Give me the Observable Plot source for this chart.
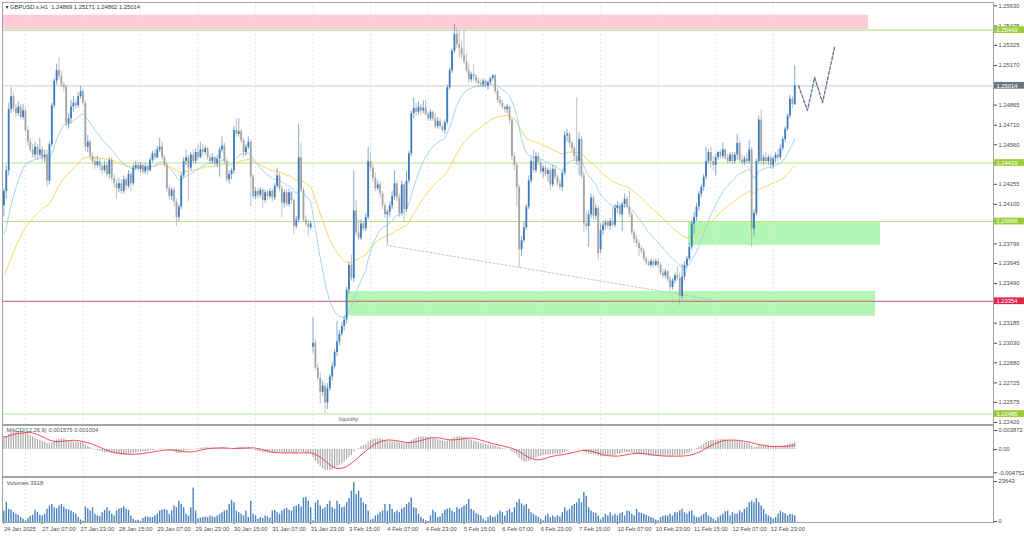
<!DOCTYPE html>
<html><head><meta charset="utf-8">
<script src="https://cdn.jsdelivr.net/npm/d3@7"></script>
<script src="https://cdn.jsdelivr.net/npm/@observablehq/plot@0.6"></script>
<style>
html,body{margin:0;padding:0;background:#fff;}
#chart{position:relative;width:1024px;height:537px;overflow:hidden;background:#fff;}
#chart svg{position:absolute;left:0;}
</style></head><body><div id="chart"></div>
<script>
// ---- DATA (GBPUSD.s H1, prices stored as pips above 1.2200) ----
const BASE = 1.22, PIP = 0.0001;
const opens = [
209,220,236,283,293,284,280,285,277,282,267,258,252,248,254,248,252,246,248,228,256,286,305,313,
309,302,300,272,276,285,288,286,293,297,288,254,258,247,243,240,243,239,236,240,233,244,230,226,
222,226,220,229,224,233,226,238,240,237,240,235,239,236,244,249,246,252,254,246,240,222,216,221,
212,200,208,232,243,246,238,248,243,250,246,252,250,253,246,243,246,241,245,252,255,243,229,233,
236,267,264,266,259,250,254,258,231,216,220,217,221,213,219,216,220,215,224,232,222,211,219,210,
219,213,193,198,246,221,198,195,192,100,103,84,76,65,70,57,68,77,85,96,104,110,116,121,
144,163,153,205,188,184,195,191,200,243,238,230,222,225,218,209,202,204,209,216,226,215,203,225,
206,228,249,280,284,281,285,282,284,279,276,281,276,270,274,270,267,273,300,313,328,341,333,330,
325,320,313,306,310,308,305,303,302,305,301,304,307,309,297,290,288,285,283,285,275,247,240,223,
175,182,192,208,228,243,236,247,242,235,238,233,236,225,237,231,226,223,234,263,264,257,253,247,
243,260,232,195,193,202,215,201,207,175,190,194,196,193,197,194,207,209,202,210,214,208,202,188,
183,180,176,174,168,165,163,166,163,166,163,157,155,158,152,146,151,155,153,139,154,163,168,177,
195,200,208,218,223,231,243,250,243,240,246,250,247,252,246,243,248,243,248,257,244,242,245,243,
252,191,203,243,275,243,246,243,246,240,245,248,246,253,260,268,278,291,286.9];
const highs = [
222,240,288,300,296,287,289,287,287,284,270,261,256,258,256,261,255,252,252,258,288,307,318,323,
313,304,302,280,290,293,291,296,301,299,290,263,260,250,246,247,245,241,243,242,246,246,233,229,
230,229,232,231,236,235,241,243,242,242,241,242,241,246,251,252,255,261,258,248,242,225,223,223,
214,210,234,246,252,248,250,252,253,256,258,256,255,254,248,249,247,248,254,262,257,245,236,238,
270,276,276,268,261,256,262,260,233,223,222,223,222,221,221,222,222,226,238,234,224,221,221,222,
220,214,201,272,257,223,201,198,197,123,106,87,80,74,72,72,79,88,98,120,113,119,124,146,
165,171,236,213,198,198,197,203,254,250,241,234,228,227,220,211,206,212,220,236,228,218,228,226,
236,251,282,292,288,289,287,290,290,281,283,282,280,277,276,272,275,302,315,330,349,346,344,336,
344,326,318,312,318,310,307,306,307,306,305,308,310,310,299,293,290,286,287,286,276,250,242,225,
185,197,210,232,246,252,250,250,244,240,240,238,238,240,240,233,229,236,266,268,266,259,255,292,
265,262,235,204,205,218,217,210,209,195,197,198,198,199,208,210,212,211,212,218,216,220,204,190,
186,182,178,176,170,167,168,168,168,168,165,160,160,159,154,153,157,162,157,164,166,170,180,198,
204,211,220,225,233,254,252,254,247,249,251,252,257,253,249,250,250,250,264,259,248,247,250,259,
254,206,245,278,283,248,250,248,249,247,250,252,256,262,270,280,294,293,317.1];
const lows = [
201,214,232,280,281,277,278,275,275,265,255,250,246,245,244,246,243,242,223,225,254,284,302,306,
300,296,270,268,272,281,283,284,291,286,251,250,244,240,237,238,236,233,234,231,230,228,223,214,
219,218,218,221,222,220,224,236,235,234,233,233,233,235,242,244,245,250,244,238,219,213,213,208,
193,197,206,230,240,212,236,241,241,244,245,246,248,244,241,241,239,238,231,250,241,227,225,229,
233,262,262,257,246,247,252,208,214,214,214,215,207,211,213,214,212,213,222,220,200,207,208,208,
210,187,191,196,219,196,193,185,190,95,82,74,56,62,49,52,66,74,83,93,101,108,112,118,
141,151,150,186,182,182,189,189,198,235,227,220,220,215,206,199,179,200,206,213,212,200,201,196,
204,226,247,276,278,279,279,280,278,274,274,274,268,268,268,265,264,271,298,311,326,330,323,322,
318,311,303,304,305,303,300,300,300,300,298,302,305,295,288,286,283,281,280,272,244,236,208,161,
170,180,190,206,226,234,234,240,233,230,231,227,221,223,229,224,221,220,232,258,254,250,244,240,
232,230,188,190,177,199,198,198,167,172,186,190,191,190,192,192,203,200,189,207,206,200,186,180,
177,170,172,166,163,162,161,161,162,161,155,153,153,150,143,144,149,151,132,137,151,160,166,175,
187,197,205,215,220,229,241,238,236,232,244,245,245,244,241,242,241,241,244,242,240,240,241,241,
177,185,201,241,240,240,240,240,237,237,242,243,244,251,258,266,276,284,286.2];
const closes = [
220,236,283,293,284,280,285,277,282,267,258,252,248,254,248,252,246,248,228,256,286,305,313,309,
302,300,272,276,285,288,286,293,297,288,254,258,247,243,240,243,239,236,240,233,244,230,226,222,
226,220,229,224,233,226,238,240,237,240,235,239,236,244,249,246,252,254,246,240,222,216,221,212,
200,208,232,243,246,238,248,243,250,246,252,250,253,246,243,246,241,245,252,255,243,229,233,236,
267,264,266,259,250,254,258,231,216,220,217,221,213,219,216,220,215,224,232,222,211,219,210,219,
213,193,198,246,221,198,195,192,195,103,84,76,65,70,57,68,77,85,96,104,110,116,121,144,
163,153,205,188,184,195,191,200,243,238,230,222,225,218,209,202,204,209,216,226,215,203,225,206,
228,249,280,284,281,285,282,284,279,276,281,276,270,274,270,267,273,300,313,328,341,333,330,325,
320,313,306,310,308,305,303,302,305,301,304,307,309,297,290,288,285,283,285,275,247,240,223,175,
182,192,208,228,243,236,247,242,235,238,233,236,225,237,231,226,223,234,263,264,257,253,247,243,
260,232,195,193,202,215,201,207,172,190,194,196,193,197,194,207,209,202,210,214,208,202,188,183,
180,176,174,168,165,163,166,163,166,163,157,155,158,152,146,151,155,153,139,154,163,168,177,195,
200,208,218,223,231,243,250,243,240,246,250,247,252,246,243,248,243,248,257,244,242,245,243,252,
191,203,243,275,243,246,243,246,240,245,248,246,253,260,268,278,291,286.9,301.4];
const volumes = [
6790,12030,7760,7370,5820,4850,4270,2910,1940,
970,2330,3490,4270,7180,5820,4270,3880,4850,7760,9700,10670,8730,8150,9700,10670,9120,7760,7370,6790,5820,4850,2910,1550,
780,9120,8150,6790,8730,4850,3880,3490,5820,7180,8730,6790,4850,3880,6790,7760,8340,9120,7760,7180,3880,1940,970,1360,
580,2330,3300,3300,2910,2910,3880,4850,6790,7180,7760,7180,4850,6790,9700,8730,12610,10670,8730,4850,3880,8730,20370,6790,
1940,2520,2910,3300,2910,3880,3300,2910,3880,4850,5820,6790,7180,10670,13190,11640,6790,5820,4850,3880,6790,2910,12610,4850,
3880,1940,2910,2520,3880,3300,2520,6790,7180,5820,4850,6790,7760,8340,7180,6790,9120,9700,10670,9120,14550,14940,12610,8730,
970,11640,13000,9700,7760,8730,10670,12610,8730,7760,
12610,10670,8730,9120,11640,14160,18430,23643,16490,18430,14550,11640,10670,6790,1550,1940,3880,4460,5820,6790,10670,6790,10670,7760,5820,6790,
5820,7760,8730,10670,11640,14550,8730,8340,4850,2910,1940,970,
580,3880,7180,5820,2910,3300,5240,7180,7760,
8340,6790,5820,8730,7760,8730,9700,10670,13580,7760,6790,5240,4460,3880,1940,
970,2910,3880,2910,3300,4850,6790,5820,3880,
6790,7760,5820,8730,11640,13580,11060,9700,10670,7760,5820,4850,3880,2910,1940,970,
3880,4850,2910,3880,2910,3880,3300,5820,8730,6790,7760,9700,10670,11640,13970,11640,17850,15520,8730,
6790,5820,5430,3880,1550,
2910,4850,3880,5820,3880,4850,3880,5240,5820,3880,6790,6400,4850,3880,
7760,5820,5430,4850,4270,3490,2910,2330,1550,970,2910,3490,3880,
3880,4850,3880,5820,5820,6790,7760,5820,4850,6400,6790,3880,2910,2910,3880,
4850,5820,3880,2910,1940,970,2910,3880,4850,6400,6790,3880,5820,4850,
4850,6790,5820,7760,8730,11640,12610,11640,14160,11640,9700,7760,4850,3880,2910,1940,
2910,4850,6790,5820,5240,3880,4850,4460,3918];

const maSeeds = [184, 153];     // EMA20 (blue), EMA50 (yellow)
const macdSeeds = [198, 172];   // EMA12, EMA26

// levels, zones, annotations
const levelPrices = [1.25443, 1.25014, 1.24419, 1.23968, 1.23354, 1.22485];
const levelKinds = ["zone", "current", "zone", "zone", "support", "zone"];
const zoneKinds = ["resistance", "demand", "demand"];
const zoneStartBar = [-0.6, 285.7, 143.3];
const zoneEndBar = [360.8, 365.8, 363.7];
const zoneLow = [1.25447, 1.23784, 1.23239];
const zoneHigh = [1.25558, 1.23966, 1.23429];
const liquidityBars = [159.6, 294.9];
const liquidityPrices = [1.23786, 1.23368];
const projectionBars = [331.6, 335.3, 338.3, 341.6, 346.6];
const projectionPrices = [1.25014, 1.24824, 1.25078, 1.24885, 1.25309];
const annotationText = ["liquidity"];
const annotationBar = [143.8];
const annotationPrice = [1.22443];
const gridBars = [9, 33, 57, 81, 105, 129, 153, 177, 201, 225, 249, 273, 297, 321];
const priceTicks = [1.25630, 1.25475, 1.25325, 1.25170, 1.24865, 1.24710, 1.24560, 1.24255, 1.24100,
  1.23796, 1.23645, 1.23490, 1.23185, 1.23030, 1.22880, 1.22725, 1.22575, 1.22420];
const macdTicks = [0.003872, 0, -0.004752];
const macdTickLabels = ["0.003872", "0.00", "-0.004752"];
const volumeTicks = [23643, 0];
const timeTickBars = [0,16,32,48,64,80,96,112,128,144,160,176,192,208,224,240,256,272,288,304,320];
const timeLabels = ["24 Jan 2025","27 Jan 07:00","27 Jan 23:00","28 Jan 15:00","29 Jan 07:00","29 Jan 23:00",
  "30 Jan 15:00","31 Jan 07:00","31 Jan 23:00","3 Feb 15:00","4 Feb 07:00","4 Feb 23:00","5 Feb 15:00",
  "6 Feb 07:00","6 Feb 23:00","7 Feb 15:00","10 Feb 07:00","10 Feb 23:00","11 Feb 15:00","12 Feb 07:00","12 Feb 23:00"];
const headerText = "\u25BE GBPUSD.s,H1  1.24869 1.25171 1.24862 1.25014";
const macdTitle = "MACD(12,26,9) 0.001575 0.001004";
const volumeTitle = "Volumes 3918";

// ---- BUILD ----
const n = closes.length;
[opens, highs, lows, volumes].forEach((a, k) => { if (a.length !== n) throw new Error("length mismatch " + k + ": " + a.length + " vs " + n); });
const bars = d3.range(n).map(i => {
  const o = BASE + opens[i] * PIP, c = BASE + closes[i] * PIP;
  let lo = Math.min(o, c), hi = Math.max(o, c);
  if (hi - lo < 0.00008) { const m = (hi + lo) / 2; lo = m - 0.00004; hi = m + 0.00004; }
  return {i, o, c, h: BASE + highs[i] * PIP, l: BASE + lows[i] * PIP, v: volumes[i], up: c >= o, lo, hi};
});
function ema(vals, period, seed) { const a = 2 / (period + 1); let e = seed; return vals.map(v => (e = e + a * (v - e))); }
const cl = bars.map(b => b.c);
const maFast = ema(cl, 20, BASE + maSeeds[0] * PIP);
const maSlow = ema(cl, 50, BASE + maSeeds[1] * PIP);
const e12 = ema(cl, 12, BASE + macdSeeds[0] * PIP);
const e26 = ema(cl, 26, BASE + macdSeeds[1] * PIP);
const macd = e12.map((v, i) => v - e26[i]);
const signal = macd.map((_, i) => d3.mean(macd.slice(Math.max(0, i - 8), i + 1)));

const zones = zoneKinds.map((k, j) => ({k, x1: zoneStartBar[j], x2: zoneEndBar[j], y1: zoneLow[j], y2: zoneHigh[j]}));
const levels = levelPrices.map((p, j) => ({p, k: levelKinds[j], label: p.toFixed(5)}));
const lineColor = {zone: "#bcdf8f", current: "#d6d6d6", support: "#d5536f"};
const boxColor = {zone: "#9dcc3a", current: "#6a7786", support: "#e0234c"};

// pixel layout
const X0 = 3.4, DX = 2.3965;               // first bar position, bar spacing
const xDomain = [(2 - X0) / DX, (993 - X0) / DX];
const boxX1 = (994 - X0) / DX, boxX2 = (1024 - X0) / DX, boxTextX = (996 - X0) / DX;
const FONT = "'Liberation Sans', Arial, 'DejaVu Sans', sans-serif";
const FS = 5.8;
const TXT = "#4a4a4a";
const common = {width: 1024, marginLeft: 2, marginRight: 31,
  style: {fontFamily: FONT, fontSize: FS + "px", background: "transparent", overflow: "visible", color: TXT}};
const UP = "#3b7bbd", DOWN = "#a3a3a3";
const grid = () => Plot.ruleX(gridBars, {stroke: "#dde1ee", strokeDasharray: "2,2", strokeWidth: 0.8});

const pxPerPrice = 12980;
const yTop = 1.22420 + (422 - 2) / pxPerPrice;
const yBot = yTop - 422 / pxPerPrice;

const main = Plot.plot({
  ...common, height: 425, marginTop: 2, marginBottom: 1,
  x: {domain: xDomain, axis: null, label: null},
  y: {domain: [yBot, yTop], label: null},
  marks: [
    Plot.rect(zones.filter(z => z.k === "resistance"), {x1: "x1", x2: "x2", y1: "y1", y2: "y2", fill: "#ffcbd7"}),
    Plot.rect(zones.filter(z => z.k === "demand"), {x1: "x1", x2: "x2", y1: "y1", y2: "y2", fill: "#b4f7b4"}),
    grid(),
    ...["zone", "current", "support"].map(k => Plot.ruleY(levels.filter(d => d.k === k), {y: "p", stroke: lineColor[k], strokeWidth: k === "current" ? 1.3 : 1.1})),
    Plot.line(liquidityBars.map((b, j) => ({b, p: liquidityPrices[j]})), {x: "b", y: "p", stroke: "#b5b5b5", strokeWidth: 0.8, strokeDasharray: "2,2"}),
    Plot.line(maSlow, {x: (d, i) => i, y: d => d, stroke: "#f5d24a", strokeWidth: 0.9}),
    Plot.line(maFast, {x: (d, i) => i, y: d => d, stroke: "#97d0ee", strokeWidth: 0.9}),
    Plot.ruleX(bars.filter(b => b.up), {x: "i", y1: "l", y2: "h", stroke: UP, strokeWidth: 0.9, strokeOpacity: 0.7}),
    Plot.ruleX(bars.filter(b => !b.up), {x: "i", y1: "l", y2: "h", stroke: DOWN, strokeWidth: 0.9, strokeOpacity: 0.75}),
    Plot.ruleX(bars.filter(b => b.up), {x: "i", y1: "lo", y2: "hi", stroke: UP, strokeWidth: 1.8}),
    Plot.ruleX(bars.filter(b => !b.up), {x: "i", y1: "lo", y2: "hi", stroke: DOWN, strokeWidth: 1.8}),
    Plot.line(projectionBars.map((b, j) => ({b, p: projectionPrices[j]})), {x: "b", y: "p", stroke: "#6b7893", strokeWidth: 1.4, strokeDasharray: "3,2"}),
    Plot.text(annotationText.map((t, j) => ({t, b: annotationBar[j], p: annotationPrice[j]})), {x: "b", y: "p", text: "t", fill: "#666", fontSize: FS}),
    Plot.text([headerText], {frameAnchor: "top-left", dx: 3, dy: 2, lineAnchor: "top", textAnchor: "start", fill: "#333", fontSize: FS}),
    Plot.axisY(priceTicks, {anchor: "right", label: null, tickFormat: d => d.toFixed(5), tickSize: 3, tickPadding: 2, fontSize: FS, color: TXT}),
    Plot.rect(levels, {x1: boxX1, x2: boxX2, y1: d => d.p - 0.00026, y2: d => d.p + 0.00026, fill: d => boxColor[d.k]}),
    Plot.text(levels, {x: boxTextX, y: "p", text: "label", textAnchor: "start", fill: "white", fontSize: FS}),
    Plot.frame({stroke: "#9ea4ab"})
  ]
});

const macdPx = 4905;
const macdTop = (449 - 425) / macdPx, macdBot = -(476 - 449) / macdPx;
const macdPlot = Plot.plot({
  ...common, height: 53, marginTop: 1, marginBottom: 1,
  x: {domain: xDomain, axis: null, label: null},
  y: {domain: [macdBot, macdTop], label: null},
  marks: [
    grid(),
    Plot.ruleX(macd, {x: (d, i) => i, y1: 0, y2: d => d, stroke: "#aaaaaa", strokeWidth: 1.2}),
    Plot.line(signal, {x: (d, i) => i, y: d => d, stroke: "#ef3b3b", strokeWidth: 0.9}),
    Plot.text([macdTitle], {frameAnchor: "top-left", dx: 4, dy: 2, lineAnchor: "top", textAnchor: "start", fill: "#555", fontSize: FS}),
    Plot.axisY(macdTicks, {anchor: "right", label: null, tickFormat: d => macdTickLabels[macdTicks.indexOf(d)], tickSize: 3, tickPadding: 2, fontSize: FS, color: TXT}),
    Plot.frame({stroke: "#9ea4ab"})
  ]
});

const volPlot = Plot.plot({
  ...common, height: 61, marginTop: 1, marginBottom: 15,
  x: {domain: xDomain, label: null},
  y: {domain: [0, 26600], label: null},
  marks: [
    grid(),
    Plot.ruleX(bars, {x: "i", y1: 0, y2: "v", stroke: "#4a82bd", strokeWidth: 1.4}),
    Plot.text([volumeTitle], {frameAnchor: "top-left", dx: 4, dy: 3, lineAnchor: "top", textAnchor: "start", fill: "#555", fontSize: FS}),
    Plot.axisY(volumeTicks, {anchor: "right", label: null, tickFormat: d => String(d), tickSize: 3, tickPadding: 2, fontSize: FS, color: TXT, dy: -1}),
    Plot.axisX(timeTickBars, {anchor: "bottom", label: null, tickFormat: d => timeLabels[timeTickBars.indexOf(d)], textAnchor: "start", tickSize: 2, tickPadding: 2, fontSize: FS, color: TXT}),
    Plot.frame({stroke: "#9ea4ab"})
  ]
});

const root = document.getElementById("chart");
[[main, 0], [macdPlot, 424], [volPlot, 476]].forEach(([svg, top]) => { svg.style.top = top + "px"; root.appendChild(svg); });
</script>
</body></html>
